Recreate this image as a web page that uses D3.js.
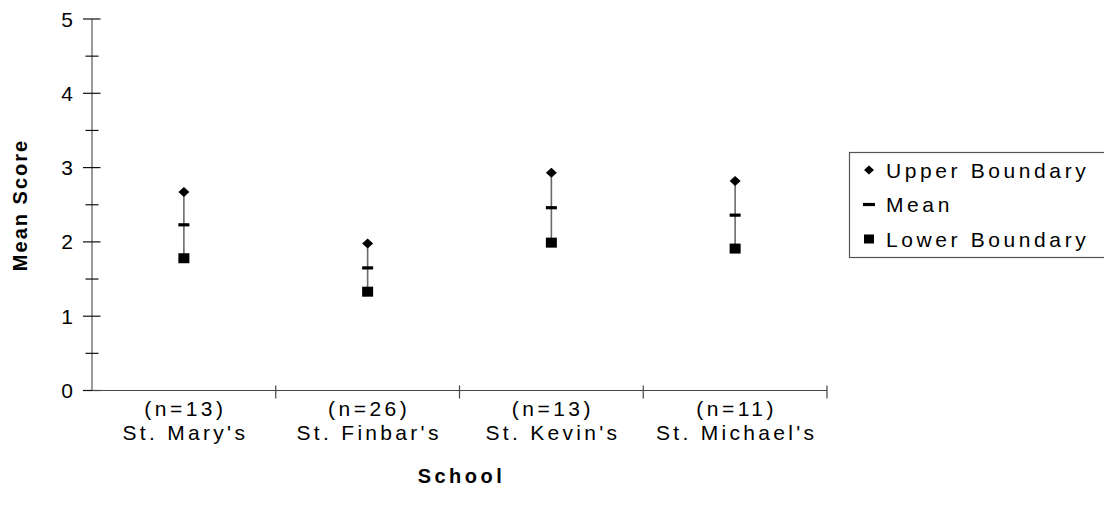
<!DOCTYPE html>
<html>
<head>
<meta charset="utf-8">
<script src="https://cdn.jsdelivr.net/npm/d3@7"></script>
<style>
  html, body { margin: 0; padding: 0; background: #fff; }
  svg { display: block; font-family: Arial, "Liberation Sans", sans-serif; }
</style>
</head>
<body>
<svg id="chart" width="1104" height="510"></svg>
<script>
// ---- data ----
const schools = ["St. Mary's", "St. Finbar's", "St. Kevin's", "St. Michael's"];
const sampleLabels = ["(n=13)", "(n=26)", "(n=13)", "(n=11)"];
const upperBoundary = [2.67, 1.98, 2.93, 2.82];
const meanScore = [2.23, 1.65, 2.46, 2.36];
const lowerBoundary = [1.78, 1.33, 1.99, 1.91];
const yTicks = [0, 1, 2, 3, 4, 5];
const yMinorTicks = [0.5, 1.5, 2.5, 3.5, 4.5];
const legendLabels = ["Upper Boundary", "Mean", "Lower Boundary"];

// ---- layout ----
const svg = d3.select("#chart");
const x0 = 92, x1 = 827, yTop = 19, yBot = 390.5;

const x = d3.scaleBand().domain(schools).range([x0, x1]).padding(0);
const y = d3.scaleLinear().domain([0, 5]).range([yBot, yTop]);

// y axis
const gy = svg.append("g");
gy.append("line").attr("x1", x0).attr("x2", x0).attr("y1", y(5)).attr("y2", y(0))
  .attr("stroke", "#7a7a7a").attr("stroke-width", 1.5);
gy.selectAll("line.maj").data(yTicks).join("line").attr("class", "maj")
  .attr("x1", x0 - 9).attr("x2", x0 + 8.5).attr("y1", d => y(d)).attr("y2", d => y(d))
  .attr("stroke", "#111").attr("stroke-width", 1.2);
gy.selectAll("line.min").data(yMinorTicks).join("line").attr("class", "min")
  .attr("x1", x0 - 6.5).attr("x2", x0 + 6.5).attr("y1", d => y(d)).attr("y2", d => y(d))
  .attr("stroke", "#111").attr("stroke-width", 1.2);
gy.selectAll("text").data(yTicks).join("text")
  .attr("x", 73).attr("y", d => y(d)).attr("dy", "0.36em")
  .attr("text-anchor", "end").attr("font-size", 21).attr("fill", "#000")
  .text(d => d);

// x axis
const gx = svg.append("g");
gx.append("line").attr("x1", x0).attr("x2", x1).attr("y1", yBot).attr("y2", yBot)
  .attr("stroke", "#444").attr("stroke-width", 1.2);
const bounds = schools.map(s => x(s) + x.bandwidth());
gx.selectAll("line.t").data(bounds).join("line").attr("class", "t")
  .attr("x1", d => d).attr("x2", d => d).attr("y1", yBot - 5).attr("y2", yBot + 8)
  .attr("stroke", "#444").attr("stroke-width", 1.2);
gx.selectAll("text.n").data(schools).join("text").attr("class", "n")
  .attr("x", d => x(d) + x.bandwidth() / 2 + 1.5).attr("y", 416)
  .attr("text-anchor", "middle").attr("font-size", 21).attr("letter-spacing", 3.5)
  .text((d, i) => sampleLabels[i]);
gx.selectAll("text.s").data(schools).join("text").attr("class", "s")
  .attr("x", d => x(d) + x.bandwidth() / 2 + 1.5).attr("y", 440)
  .attr("text-anchor", "middle").attr("font-size", 21).attr("letter-spacing", 3.3)
  .text(d => d);

// axis titles
svg.append("text").attr("x", (x0 + x1) / 2 + 2).attr("y", 483)
  .attr("text-anchor", "middle").attr("font-size", 20).attr("font-weight", "bold")
  .attr("letter-spacing", 3.5).text("School");
svg.append("text").attr("transform", `translate(27,205) rotate(-90)`)
  .attr("text-anchor", "middle").attr("font-size", 20).attr("font-weight", "bold")
  .attr("letter-spacing", 2).text("Mean Score");

// data marks
const cx = i => x(schools[i]) + x.bandwidth() / 2;
const marks = svg.append("g");
marks.selectAll("line.err").data(schools).join("line").attr("class", "err")
  .attr("x1", (d, i) => cx(i)).attr("x2", (d, i) => cx(i))
  .attr("y1", (d, i) => y(upperBoundary[i])).attr("y2", (d, i) => y(lowerBoundary[i]))
  .attr("stroke", "#6a6a6a").attr("stroke-width", 1.6);

const diamond = "M0,-5 L5.5,0 L0,5 L-5.5,0 Z";
marks.selectAll("path.up").data(schools).join("path").attr("class", "up")
  .attr("d", diamond)
  .attr("transform", (d, i) => `translate(${cx(i)},${y(upperBoundary[i])})`)
  .attr("fill", "#000");
marks.selectAll("rect.mean").data(schools).join("rect").attr("class", "mean")
  .attr("x", (d, i) => cx(i) - 5.5).attr("y", (d, i) => y(meanScore[i]) - 1.6)
  .attr("width", 11).attr("height", 3.2).attr("fill", "#000");
marks.selectAll("rect.low").data(schools).join("rect").attr("class", "low")
  .attr("x", (d, i) => cx(i) - 5.5).attr("y", (d, i) => y(lowerBoundary[i]) - 5)
  .attr("width", 11).attr("height", 10).attr("fill", "#000");

// legend
const lg = svg.append("g");
lg.append("rect").attr("x", 849.5).attr("y", 152.5).attr("width", 270).attr("height", 105)
  .attr("fill", "#fff").attr("stroke", "#555").attr("stroke-width", 1.2);
const rowY = [170, 204.5, 239];
lg.append("path").attr("d", "M0,-4.5 L5,0 L0,4.5 L-5,0 Z")
  .attr("transform", `translate(869,${rowY[0]})`).attr("fill", "#000");
lg.append("rect").attr("x", 863).attr("y", rowY[1] - 1.6).attr("width", 12).attr("height", 3.2).attr("fill", "#000");
lg.append("rect").attr("x", 864).attr("y", rowY[2] - 4.5).attr("width", 10).attr("height", 9).attr("fill", "#000");
lg.selectAll("text").data(legendLabels).join("text")
  .attr("x", 886).attr("y", (d, i) => rowY[i]).attr("dy", "0.36em")
  .attr("font-size", 21).attr("letter-spacing", 3.6).text(d => d);
</script>
</body>
</html>
